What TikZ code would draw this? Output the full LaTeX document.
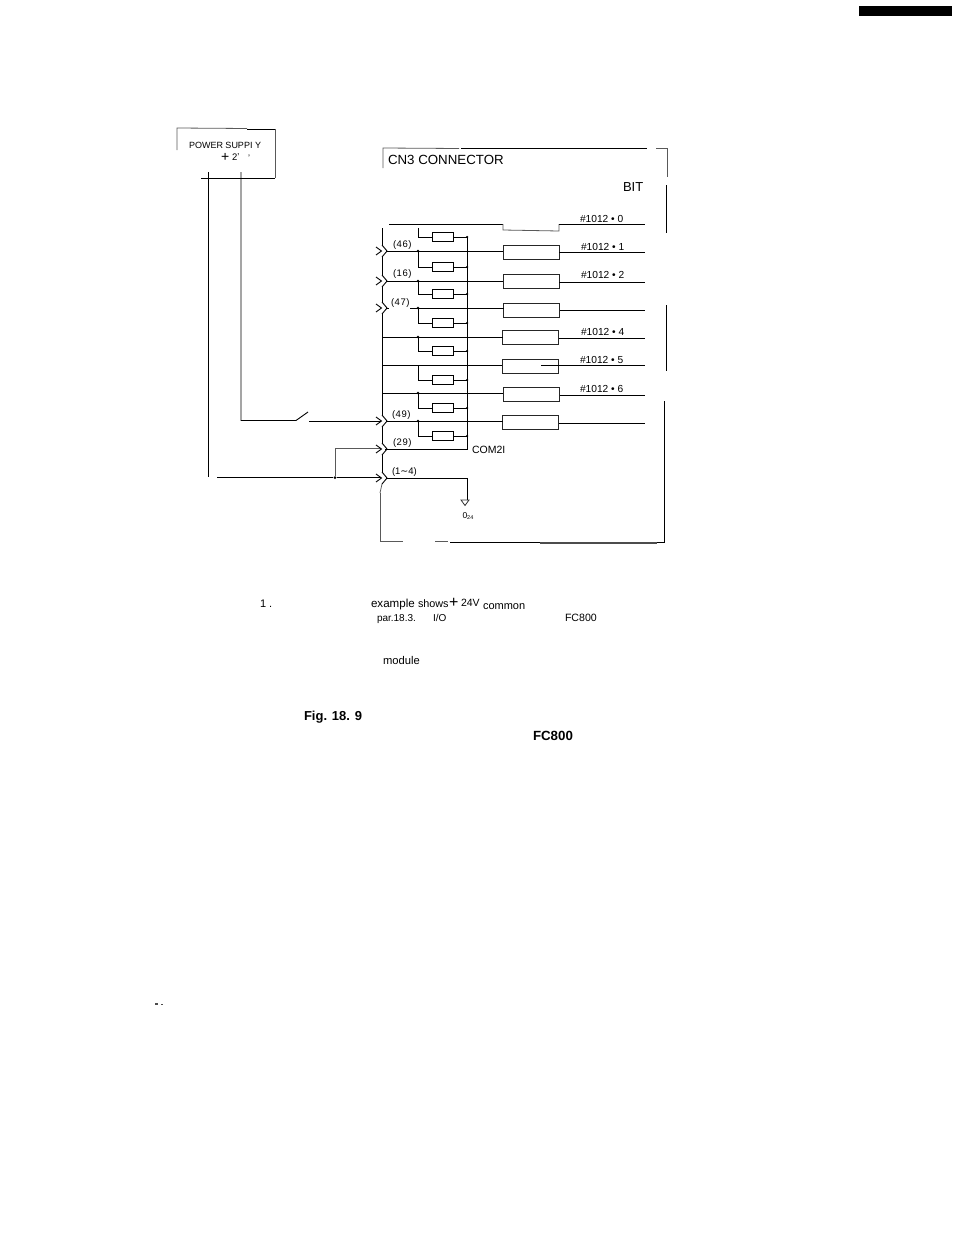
\documentclass[tikz,border=0pt]{standalone}
\usepackage{fontspec}
\setmainfont{Liberation Sans}
\newfontfamily\dejavu{DejaVu Sans}
\newcommand{\fs}[1]{\fontsize{#1}{#1}\selectfont}
\tikzset{
  wire/.style={line width=0.9pt,black,line join=miter},
  faint/.style={line width=0.8pt,black!65},
  bigbox/.style={draw=black!85,line width=0.9pt,fill=none,minimum width=56pt,minimum height=14pt,inner sep=0pt,outer sep=0pt},
  resbox/.style={draw=black,line width=0.8pt,minimum width=21pt,minimum height=8.5pt,inner sep=0pt,outer sep=0pt},
  dotn/.style={circle,fill=black,inner sep=0pt,minimum size=3pt},
  txt/.style={anchor=mid west,inner sep=0pt,outer sep=0pt,text=black,yshift=-1.8pt},
}
\newcommand{\chev}[1]{%
  \draw[wire] (382,#1-6) -- (387,#1) -- (382,#1+6);
  \draw[wire] (376,#1-4) -- (381.5,#1) -- (376,#1+4);
}
\begin{document}
\begin{tikzpicture}[x=1pt,y=-1pt]
\useasboundingbox (0,0) rectangle (954,1234);
% page mark
\fill[black] (859,6) rectangle (952,16);
\fill[black!70] (155,1003) rectangle (158,1005);
\fill[black!70] (161,1004) rectangle (162.5,1005);
% power supply
\draw[faint] (177,150) -- (177,128) -- (247,128.5);
\draw[wire] (247,129) -- (275,129);
\draw[faint] (275,129) -- (275,178);
\draw[wire] (201,178) -- (275,178);
\node[txt] (ps) at (189,144.5) {\fs{9}POWER SUPPI Y};
\node[txt] (psa) at (221,157.5) {\fs{14}+};
\node[txt] (psb) at (232,156.5) {\fs{9.5}2ʼ};
\node[txt] (psc) at (248,157) {\fs{9}ʼ};
\coordinate (pa) at (208,172);
\coordinate (pb) at (241,172);
\coordinate (pa2) at (208,477);
\coordinate (pb2) at (241,420.5);
\draw[wire] (pa) -- (pa2);
\draw[wire] (pb) -- (pb2) -- (296,420.5) -- (308,412);
\coordinate (sw) at (309,421);
\coordinate (arr49) at (381,421);
\draw[wire] (sw) -- (arr49);
\coordinate (n0) at (335,477.5);
\node[dotn] (jn) at (n0) {};
\draw[wire] (217,477.5) -- (jn) -- (381,477.5);
\draw[faint] (jn) -- (335,448.5) -- (381,448.5);
% CN3 frame
\draw[faint] (383,168) -- (383,148) -- (459,148.5);
\draw[wire] (461,148) -- (647,148);
\draw[faint] (656,148) -- (667,148) -- (667,177);
\draw[wire] (666,185) -- (666,233);
\draw[wire] (666.5,305) -- (666.5,371);
\draw[wire] (664,401) -- (664,543);
\draw[faint] (380,493) -- (380,541) -- (403,541);
\draw[faint] (435,541) -- (448,541);
\draw[wire] (450,542.5) -- (664,542.5);
\draw[line width=1.3pt,black!70] (540,543) -- (657,543);
\node[txt] (cn3) at (388,160) {\fs{13.3}CN3 CONNECTOR};
\node[txt] (bit) at (623,187.5) {\fs{13}BIT};
% left rail (broken by the connector chevrons) and bus
\foreach \ya/\yb in {228/245,257/275,287/302,314/415,427/443,455/472}{
  \draw[wire] (382,\ya) -- (382,\yb);
}
\draw[faint] (382,484) -- (380,493);
\draw[wire] (467,237) -- (467,449) -- (385,449);
\node[txt] (com) at (472,449.5) {\fs{10.5}COM2I};
% row 0
\draw[wire] (389,224) -- (503,224);
\draw[faint] (503,224) -- (503,230) -- (559,231) -- (559,224);
\draw[wire] (559,224) -- (645,224);
% connector chevrons
\chev{251}\chev{281}\chev{308}\chev{421}\chev{449}\chev{478}
% input rows, big boxes, outputs
\foreach \n/\yin/\bx/\by/\yout/\xs in {1/251/531/252/252/559,2/281/531/281/282/559,3/308/531.5/310/310/560,4/337/530.5/337/338/559,5/365/530/366/365/541,6/393/531/394/395/560,7/421/530.5/422.5/423/559}{
  \node[bigbox] (b\n) at (\bx,\by) {};
  \coordinate (ou\n) at (\xs,\yout);
  \draw[wire] (ou\n) -- (645,\yout);
}
\foreach \n/\yin/\xs in {1/251/387,2/281/387,3/308/410,4/337/382,5/365/382,6/393/382,7/421/387}{
  \coordinate (in\n) at (\xs,\yin);
  \draw[wire] (in\n) -- (in\n -| b\n.west);
}
\draw[wire] (387,308) -- (389,308);
% resistors
\foreach \n/\yr/\yb in {0/237/228,1/267/251,2/294/281,3/323/308,4/351/337,5/380/365,6/408/393,7/436/421}{
  \node[resbox] (r\n) at (442.5,\yr) {};
  \coordinate (t\n) at (418,\yb);
  \draw[wire] (t\n) -- (t\n |- r\n.west) -- (r\n.west);
  \coordinate (bus\n) at (467,\yr);
  \draw[wire] (r\n.east) -- (bus\n);
  \node[dotn,minimum size=2.5pt] (d\n) at (bus\n) {};
}
\foreach \n in {1,2,3,4,6,7}{ \node[dotn,minimum size=2.8pt] (s\n) at (t\n) {}; }
% ground
\coordinate (g0) at (387,478);
\coordinate (g1) at (467,478);
\draw[wire] (g0) -- (g1);
\draw[wire] (g1) -- (467,500);
\draw[black!80,line width=0.8pt] (461,500) -- (469,500) -- (465,505.5) -- cycle;
\node[txt] (g24) at (462.5,514) {\fs{8.5}0\raisebox{-1.5pt}{\fs{5.5}24}};
% row labels
\foreach \nm/\tx/\x/\y in {a/(46)/393/243,b/(16)/393/272,c/(47)/391/301,d/(49)/392/413,e/(29)/393/441}{
  \node[txt] (l\nm) at (\x,\y) {\fs{9.5}\addfontfeatures{LetterSpace=6}\tx};
}
\node[txt] (lf) at (392,470) {\fs{9.5}(1{\dejavu∼}4)};
% bit labels
\foreach \nm/\tx/\x/\y in {a/0/580/218,b/1/581/246,c/2/581/274,d/4/581/331,e/5/580/359,f/6/580/388}{
  \node[txt] (m\nm) at (\x,\y) {\fs{10.2}\#1012 • \tx};
}
% notes
\node[txt] (t1) at (260,603) {\fs{11}1 .};
\node[txt] (t2) at (371,603) {\fs{11.6}example};
\node[txt] (t3) at (418,603) {\fs{10.8}shows};
\node[txt] (t4) at (449,603) {\fs{16}+};
\node[txt] (t5) at (461,602.5) {\fs{10.5}24V};
\node[txt] (t6) at (483,605) {\fs{11}common};
\node[txt] (t7) at (377,617) {\fs{10}par.18.3.};
\node[txt] (t8) at (433,617) {\fs{10}I/O};
\node[txt] (t9) at (565,617) {\fs{10.6}FC800};
\node[txt] (t10) at (383,660) {\fs{11.2}module};
\node[txt] (t11) at (304,716) {\fs{13}\bfseries Fig. 18. 9};
\node[txt] (t12) at (533,736) {\fs{13.3}\bfseries FC800};
\end{tikzpicture}
\end{document}
